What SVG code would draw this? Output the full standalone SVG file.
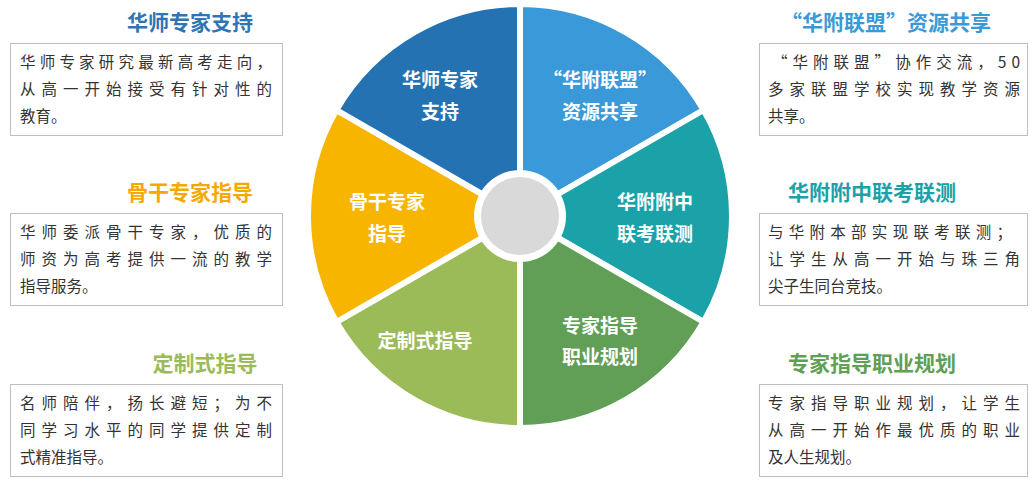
<svg xmlns="http://www.w3.org/2000/svg" width="1036" height="485" viewBox="0 0 1036 485">
<style>
.s{stroke:#fff;stroke-width:6;stroke-linejoin:round}
.w{fill:#fff;font-family:"Noto Sans CJK SC",sans-serif;font-weight:bold;font-size:19px;text-anchor:middle}
.t{font-family:"Noto Sans CJK SC",sans-serif;font-weight:bold;font-size:21px;text-anchor:middle}
.b{fill:#333;font-family:"Noto Sans CJK SC",sans-serif;font-size:15.5px}
.box{fill:#fff;stroke:#bfbfbf;stroke-width:1}
</style>
<rect width="1036" height="485" fill="#fff"/>
<g id="connectors"></g>
<g id="pie">
<path class="s" fill="#3a99d8" d="M520,216 L520,4 A212,212 0 0 1 703.6,110 Z"/>
<path class="s" fill="#1ba1a8" d="M520,216 L703.6,110 A212,212 0 0 1 703.6,322 Z"/>
<path class="s" fill="#609f55" d="M520,216 L703.6,322 A212,212 0 0 1 520,428 Z"/>
<path class="s" fill="#9bbb59" d="M520,216 L520,428 A212,212 0 0 1 336.4,322 Z"/>
<path class="s" fill="#f7b500" d="M520,216 L336.4,322 A212,212 0 0 1 336.4,110 Z"/>
<path class="s" fill="#2472b2" d="M520,216 L336.4,110 A212,212 0 0 1 520,4 Z"/>
<circle cx="520" cy="216" r="46" fill="#fff"/>
<circle cx="520" cy="216" r="39" fill="#d9d9d9"/>
</g>
<g id="n1"><text class="w" x="440" y="87">华师专家</text><text class="w" x="440" y="119">支持</text></g>
<g id="n2"><text class="w" x="600" y="87">“华附联盟”</text><text class="w" x="600" y="119">资源共享</text></g>
<g id="n3"><text class="w" x="655" y="209">华附附中</text><text class="w" x="655" y="241">联考联测</text></g>
<g id="n4"><text class="w" x="600" y="333">专家指导</text><text class="w" x="600" y="364">职业规划</text></g>
<g id="n5"><text class="w" x="425" y="348">定制式指导</text></g>
<g id="n6"><text class="w" x="387" y="209">骨干专家</text><text class="w" x="387" y="241">指导</text></g>
<g id="b1"><text class="t" x="190" y="30" fill="#2e75b6">华师专家支持</text>
<rect class="box" x="10.5" y="43.5" width="272" height="92"/>
<text class="b" x="20" y="68" textLength="252">华师专家研究最新高考走向，</text>
<text class="b" x="20" y="95" textLength="252">从高一开始接受有针对性的</text>
<text class="b" x="20" y="122">教育。</text></g>
<g id="b2"><text class="t" x="190" y="200" fill="#f5a900">骨干专家指导</text>
<rect class="box" x="10.5" y="213.5" width="272" height="92"/>
<text class="b" x="20" y="238" textLength="252">华师委派骨干专家，优质的</text>
<text class="b" x="20" y="265" textLength="252">师资为高考提供一流的教学</text>
<text class="b" x="20" y="292">指导服务。</text></g>
<g id="b3"><text class="t" x="205" y="371" fill="#9bbb59">定制式指导</text>
<rect class="box" x="10.5" y="384.5" width="272" height="92"/>
<text class="b" x="20" y="409" textLength="252">名师陪伴，扬长避短；为不</text>
<text class="b" x="20" y="436" textLength="252">同学习水平的同学提供定制</text>
<text class="b" x="20" y="463">式精准指导。</text></g>
<g id="b4"><text class="t" x="886" y="30" fill="#3a99d8">“华附联盟”资源共享</text>
<rect class="box" x="759.5" y="43.5" width="268" height="92"/>
<text class="b" x="772" y="68" textLength="248">“华附联盟”协作交流，50</text>
<text class="b" x="768" y="95" textLength="252">多家联盟学校实现教学资源</text>
<text class="b" x="768" y="122">共享。</text></g>
<g id="b5"><text class="t" x="872" y="200" fill="#1ba1a8">华附附中联考联测</text>
<rect class="box" x="759.5" y="213.5" width="268" height="92"/>
<text class="b" x="768" y="238" textLength="244">与华附本部实现联考联测；</text>
<text class="b" x="768" y="265" textLength="252">让学生从高一开始与珠三角</text>
<text class="b" x="768" y="292">尖子生同台竞技。</text></g>
<g id="b6"><text class="t" x="872" y="371" fill="#609f55">专家指导职业规划</text>
<rect class="box" x="759.5" y="384.5" width="268" height="92"/>
<text class="b" x="768" y="409" textLength="252">专家指导职业规划，让学生</text>
<text class="b" x="768" y="436" textLength="252">从高一开始作最优质的职业</text>
<text class="b" x="768" y="463">及人生规划。</text></g>
</svg>
